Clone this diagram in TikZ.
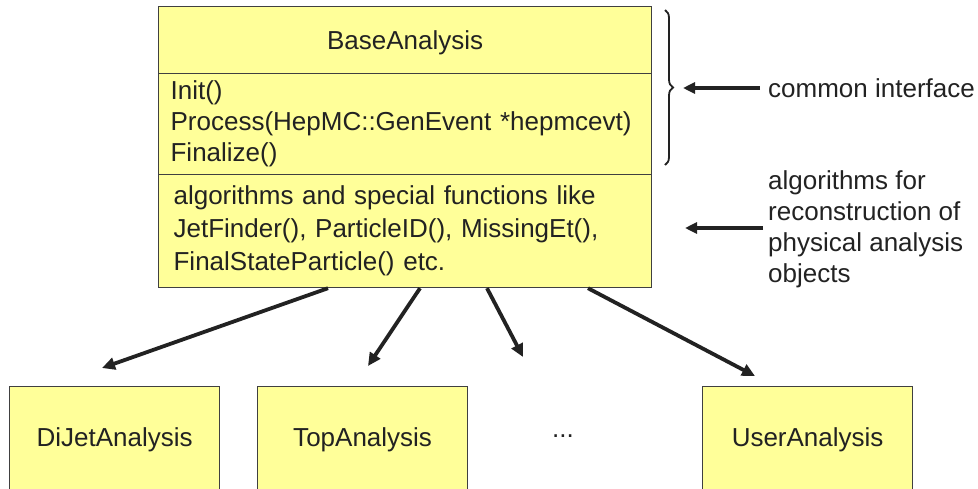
\documentclass[tikz,border=0pt]{standalone}
\usepackage{fontspec}
\setmainfont{Liberation Sans}
\usetikzlibrary{arrows.meta,decorations.pathreplacing}
\definecolor{boxfill}{HTML}{FFFF99}
\definecolor{boxline}{HTML}{404040}
\definecolor{ink}{HTML}{222222}
\begin{document}
\begin{tikzpicture}[x=1pt,y=-1pt,
  every node/.style={text=ink,font=\fontsize{26}{31}\selectfont},
  cls/.style={draw=boxline,fill=boxfill,line width=1.2pt,anchor=north west,inner sep=0pt},
  sect/.style={cls,align=left,inner xsep=12pt},
  sub/.style={draw=boxline,fill=boxfill,line width=1.2pt,minimum width=210pt,minimum height=106pt,anchor=north west,inner sep=0pt},
  inh/.style={draw=ink,line width=3.8pt,-{Triangle[length=13pt,width=12pt]}},
  note/.style={draw=ink,line width=3.8pt,-{Triangle[length=12pt,width=11pt]}},
  note text/.style={anchor=west,align=left,inner sep=0pt}
]
\useasboundingbox (0,0) rectangle (978,488);
\clip (0,0) rectangle (978,488);
% main class box
\node[cls,minimum width=493pt,minimum height=67pt,text depth=0pt] (base) at (158,6) {BaseAnalysis};
\node[sect,minimum height=101pt,text width=469pt] (iface) at (158,73)
  {Init()\\Process(HepMC::GenEvent *hepmcevt)\\Finalize()};
\node[sect,minimum height=113pt,text width=469pt,font=\fontsize{26}{33}\selectfont] (algs) at (158,174)
  {\hspace*{3pt}algorithms and special functions like\\\hspace*{3pt}JetFinder(), ParticleID(), MissingEt(),\\\hspace*{3pt}FinalStateParticle() etc.};
% brace and notes
\draw[draw=ink,line width=1.8pt,decorate,decoration={brace,amplitude=8pt}] (665,10) -- (665,165);
\node[note text] (ci) at (768,88) {common interface};
\coordinate (cia) at (683,88);
\draw[note] (ci.west) ++(-8,0) coordinate (cis) -- (cia);
\node[note text] (alg) at (768,229) {algorithms for\\reconstruction of\\physical analysis\\objects};
\coordinate (alga) at (685,228);
\draw[note] (763,228) coordinate (algs0) -- (alga);
% sub classes
\node[sub] (dijet) at (9,386) {DiJetAnalysis};
\node[sub] (top) at (257,386) {TopAnalysis};
\node (dots) at (563,436) {...};
\node[sub] (user) at (702,386) {UserAnalysis};
% inheritance arrows
\coordinate (e1) at (102,368);
\coordinate (e2) at (368,366);
\coordinate (e3) at (523,357);
\coordinate (e4) at (755,376);
\draw[inh] (algs.south -| 328,0) -- (e1);
\draw[inh] (algs.south -| 420,0) -- (e2);
\draw[inh] (algs.south -| 487,0) -- (e3);
\draw[inh] (algs.south -| 588,0) -- (e4);
\end{tikzpicture}
\end{document}
